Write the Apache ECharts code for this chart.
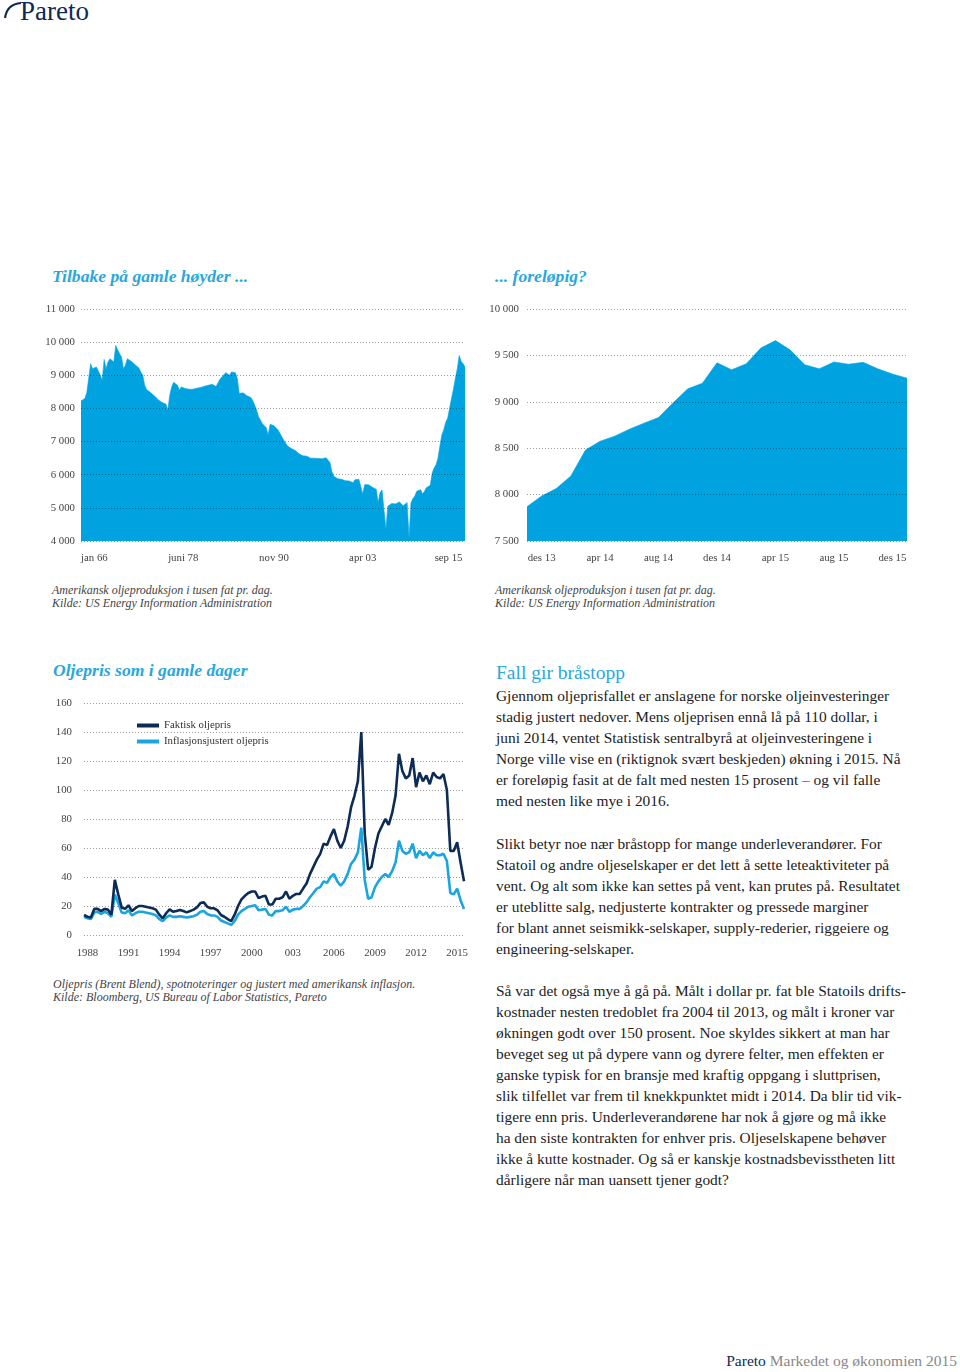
<!DOCTYPE html>
<html><head><meta charset="utf-8">
<script src="https://cdn.jsdelivr.net/npm/echarts@6/dist/echarts.min.js"></script>
<style>
html,body{margin:0;padding:0;background:#fff;}
body{width:960px;height:1372px;position:relative;overflow:hidden;font-family:"Liberation Serif",serif;}
.abs{position:absolute;white-space:nowrap;}
.ctitle{font-weight:bold;font-style:italic;color:#2aa7db;font-size:17.6px;line-height:20px;}
.cap{font-style:italic;color:#444;font-size:12px;line-height:13px;}
.body{color:#222;font-size:15.4px;line-height:21.1px;}
.chart{position:absolute;}
</style></head>
<body>
<svg class="abs" style="left:0;top:0" width="24" height="22"><path d="M5,18 Q7,4 21,3" fill="none" stroke="#0e2a52" stroke-width="2.2"/></svg>
<div class="abs" style="left:20px;top:-2px;font-size:27px;line-height:27px;color:#0e2a52;">Pareto</div>

<div class="abs ctitle" style="left:52px;top:266px;">Tilbake på gamle høyder ...</div>
<div class="abs ctitle" style="left:495px;top:266px;">... foreløpig?</div>
<div id="c1" class="chart" style="left:0;top:290px;width:480px;height:290px;"></div>
<div id="c2" class="chart" style="left:480px;top:290px;width:480px;height:290px;"></div>
<div class="abs cap" style="left:52px;top:583.5px;">Amerikansk oljeproduksjon i tusen fat pr. dag.<br>Kilde: US Energy Information Administration</div>
<div class="abs cap" style="left:495px;top:583.5px;">Amerikansk oljeproduksjon i tusen fat pr. dag.<br>Kilde: US Energy Information Administration</div>

<div class="abs ctitle" style="left:53px;top:660px;">Oljepris som i gamle dager</div>
<div id="c3" class="chart" style="left:0;top:690px;width:480px;height:280px;"></div>
<div class="abs cap" style="left:53px;top:977.5px;">Oljepris (Brent Blend), spotnoteringer og justert med amerikansk inflasjon.<br>Kilde: Bloomberg, US Bureau of Labor Statistics, Pareto</div>

<div class="abs" style="left:496px;top:662px;font-size:19.5px;line-height:22px;color:#2aa7db;">Fall gir bråstopp</div>
<div class="abs body" style="left:496px;top:684.5px;">Gjennom oljeprisfallet er anslagene for norske oljeinvesteringer<br>stadig justert nedover. Mens oljeprisen ennå lå på 110 dollar, i<br>juni 2014, ventet Statistisk sentralbyrå at oljeinvesteringene i<br>Norge ville vise en (riktignok svært beskjeden) økning i 2015. Nå<br>er foreløpig fasit at de falt med nesten 15 prosent – og vil falle<br>med nesten like mye i 2016.</div>
<div class="abs body" style="left:496px;top:832.5px;">Slikt betyr noe nær bråstopp for mange underleverandører. For<br>Statoil og andre oljeselskaper er det lett å sette leteaktiviteter på<br>vent. Og alt som ikke kan settes på vent, kan prutes på. Resultatet<br>er uteblitte salg, nedjusterte kontrakter og pressede marginer<br>for blant annet seismikk-selskaper, supply-rederier, riggeiere og<br>engineering-selskaper.</div>
<div class="abs body" style="left:496px;top:979.5px;">Så var det også mye å gå på. Målt i dollar pr. fat ble Statoils drifts-<br>kostnader nesten tredoblet fra 2004 til 2013, og målt i kroner var<br>økningen godt over 150 prosent. Noe skyldes sikkert at man har<br>beveget seg ut på dypere vann og dyrere felter, men effekten er<br>ganske typisk for en bransje med kraftig oppgang i sluttprisen,<br>slik tilfellet var frem til knekkpunktet midt i 2014. Da blir tid vik-<br>tigere enn pris. Underleverandørene har nok å gjøre og må ikke<br>ha den siste kontrakten for enhver pris. Oljeselskapene behøver<br>ikke å kutte kostnader. Og så er kanskje kostnadsbevisstheten litt<br>dårligere når man uansett tjener godt?</div>

<div class="abs" style="right:3px;top:1352px;font-size:15.5px;line-height:18px;color:#888;"><span style="color:#0e2a52">Pareto</span> Markedet og økonomien 2015</div>

<script>
// ---------- Chart 1: US oil production, quarterly 1966-2015 ----------
const prodQuarterly = [
8225,8250,8300,8480,8450,9350,9200,9220,9250,9130,
9000,8850,9480,9200,9400,9500,9520,9400,9900,9900,
9650,9550,9200,9300,9500,9450,9420,9400,9320,9280,
9220,9100,9000,8700,8570,8540,8480,8440,8380,8320,
8260,8220,8180,8160,8130,7950,8400,8650,8790,8830,
8700,8550,8650,8680,8600,8570,8580,8590,8580,8600,
8610,8620,8630,8650,8670,8680,8700,8720,8730,8700,
8660,8620,8880,8950,9000,9080,9020,9000,9100,9150,
9080,8900,8450,8440,8470,8420,8380,8370,8330,8240,
8100,7950,7750,7650,7540,7480,7420,7200,7520,7500,
7480,7430,7360,7260,7150,7050,6960,6870,6820,6790,
6760,6730,6680,6630,6600,6570,6570,6560,6520,6500,
6540,6500,6460,6490,6510,6480,6470,6510,6450,6370,
6100,5950,5920,5880,5860,5860,5850,5820,5810,5810,
5790,5760,5850,5880,5860,5800,5420,5700,5760,5700,
5660,5620,5600,5560,5160,5460,5540,5500,4350,5050,
5100,5130,5160,5120,5100,5180,5190,5060,5120,5160,
4100,5150,5280,5360,5500,5540,5550,5420,5500,5610,
5640,5680,6050,6200,6300,6500,6870,7200,7360,7580,
7700,8000,8300,8580,8900,9200,9600,9420,9350,9250];
const x1TickLabels = ['jan 66','juni 78','nov 90','apr 03','sep 15'];
const x1TickIdx = [0, 53, 100, 146, 198];
const y1TickLabels = ['4 000','5 000','6 000','7 000','8 000','9 000','10 000','11 000'];

// ---------- Chart 2: US oil production, monthly nov 13 - jan 16 ----------
const categories2 = ['nov 13','des 13','jan 14','feb 14','mar 14','apr 14','mai 14','jun 14','jul 14','aug 14','sep 14','okt 14','nov 14','des 14','jan 15','feb 15','mar 15','apr 15','mai 15','jun 15','jul 15','aug 15','sep 15','okt 15','nov 15','des 15','jan 16'];
const prodMonthly = [7870,7985,8065,8200,8480,8575,8630,8705,8770,8830,8990,9140,9200,9420,9345,9410,9580,9660,9560,9400,9355,9430,9405,9425,9355,9300,9255];
const x2TickLabels = ['des 13','apr 14','aug 14','des 14','apr 15','aug 15','des 15'];
const y2TickLabels = ['7 500','8 000','8 500','9 000','9 500','10 000'];

// ---------- Chart 3: Brent, quarterly 1988-2015 ----------
const brentNominal = [
13.8,12.6,12,18,18,16.5,18,17.5,14,38,
28,19,18,20.5,16.5,18.5,20,20,19.5,19,
18.4,17.5,14,11.5,15,17.7,16,16.5,17.2,16.5,
15.6,16.5,17.5,19,22,22.5,19.5,18.4,18.4,17,
13.8,12.6,11,9.5,14,20,24.5,27,29,30,
30,25.5,26.5,27,21,21,25,25,26,30,
25,27,28.3,28.3,32,35.5,42,47,52,56,
63,62,68,73,65,60,65,74.7,88,96,
106,140,70,45,47,60,70,75,80,76,
84,96,125,113,108,110,122,102,112,106,
110,104,112,109,108,111,100,58,58,64,
50,37];
const brentReal = [
12.5,11.5,11,15.5,16,14.5,16,15,12.5,28,
22,15.5,15,17,13.5,15,16,16,15.5,15,
14.5,13.5,11,9.5,12,13.5,12.5,12.5,13,12.5,
12,12.5,13,14,16,16.5,14.5,13.5,13.5,12.5,
10,9,8,7,9.5,14,16.5,18,19.5,20,
20.5,17,17.5,18,14,13.5,16.5,16.5,17,19.5,
16,17.5,18,18,20,22.5,26,29,32,33,
37,36,40,42,37,34,37,42,49,52,
57,74,38,25,26,33,37,40,42,40,
44,50,65,58,56,57,63,53,58,55,
57,53,57,55,55,56,51,29,28,32,
24,18];
const x3TickLabels = ['1988','1991','1994','1997','2000','003','2006','2009','2012','2015'];
const seriesNames3 = ['Faktisk oljepris','Inflasjonsjustert oljepris'];

// ---------- shared style ----------
const FONT = 'Liberation Serif';
const LABEL = {color:'#444', fontFamily:FONT, fontSize:10.8};
const GRIDLINE = {show:true, lineStyle:{color:'rgba(0,0,0,0.38)', type:[1,2], width:1}};
const BLUE = '#00a3e0';

// categories for chart 1 and 3
const categories1 = [];
for (let y = 1966; y <= 2015; y++) for (let q = 1; q <= 4; q++) categories1.push(y + ' K' + q);
const categories3 = [];
for (let y = 1988; y <= 2015; y++) for (let q = 1; q <= 4; q++) categories3.push(y + ' K' + q);

// Chart 1
const c1 = echarts.init(document.getElementById('c1'));
c1.setOption({
  animation:false,
  grid:{left:81, top:19, width:384, height:232},
  xAxis:{type:'category', data:categories1, boundaryGap:false,
    axisLine:{show:false}, axisTick:{show:false}, splitLine:{show:false},
    axisLabel:Object.assign({}, LABEL, {
      margin:12, alignMinLabel:'left',
      interval:(i)=>x1TickIdx.indexOf(i)>=0,
      formatter:(v,i)=>{const k=x1TickIdx.indexOf(i); if(k<0) return ''; return k===x1TickLabels.length-1 ? '{r|'+x1TickLabels[k]+'}' : x1TickLabels[k];},
      rich:{r:Object.assign({}, LABEL, {padding:[0,29,0,0]})}
    })},
  yAxis:{type:'value', min:4000, max:11000, interval:1000, z:5,
    axisLine:{show:false}, axisTick:{show:false}, splitLine:GRIDLINE,
    axisLabel:Object.assign({}, LABEL, {margin:6, formatter:(v)=>y1TickLabels[Math.round((v-4000)/1000)]})},
  series:[{type:'line', data:prodQuarterly, symbol:'none', z:2,
    lineStyle:{width:0.6, color:BLUE}, itemStyle:{color:BLUE},
    areaStyle:{color:BLUE, opacity:1, origin:'start'}}]
});

// Chart 2
const c2 = echarts.init(document.getElementById('c2'));
c2.setOption({
  animation:false,
  grid:{left:47, top:19, width:380, height:232},
  xAxis:{type:'category', data:categories2, boundaryGap:false,
    axisLine:{show:false}, axisTick:{show:false}, splitLine:{show:false},
    axisLabel:Object.assign({}, LABEL, {margin:12,
      interval:(i)=>x2TickLabels.indexOf(categories2[i])>=0,
      formatter:(v)=>x2TickLabels.indexOf(v)>=0 ? v : ''})},
  yAxis:{type:'value', min:7500, max:10000, interval:500, z:5,
    axisLine:{show:false}, axisTick:{show:false}, splitLine:GRIDLINE,
    axisLabel:Object.assign({}, LABEL, {margin:8, formatter:(v)=>y2TickLabels[Math.round((v-7500)/500)]})},
  series:[{type:'line', data:prodMonthly, symbol:'none', z:2,
    lineStyle:{width:0.6, color:BLUE}, itemStyle:{color:BLUE},
    areaStyle:{color:BLUE, opacity:1, origin:'start'}}]
});

// Chart 3
const NAVY = '#0c2b55', LIGHT = '#1aa5e0';
const c3 = echarts.init(document.getElementById('c3'));
c3.setOption({
  animation:false,
  grid:{left:84, top:13, width:380, height:232},
  legend:{data:seriesNames3, orient:'vertical', left:137, top:30, padding:0, itemWidth:22, itemHeight:4, itemGap:5, icon:'rect',
    textStyle:{color:'#333', fontFamily:FONT, fontSize:10.8}},
  xAxis:{type:'category', data:categories3, boundaryGap:false,
    axisLine:{show:false}, axisTick:{show:false}, splitLine:{show:false},
    axisLabel:Object.assign({}, LABEL, {margin:13,
      interval:(i)=>(i-1)%12===0,
      formatter:(v,i)=>((i-1)%12===0 ? x3TickLabels[(i-1)/12] : '')})},
  yAxis:{type:'value', min:0, max:160, interval:20,
    axisLine:{show:false}, axisTick:{show:false}, splitLine:GRIDLINE,
    axisLabel:Object.assign({}, LABEL, {margin:12})},
  series:[
    {name:seriesNames3[1], type:'line', data:brentReal, symbol:'none', lineStyle:{width:2.6, color:LIGHT}, itemStyle:{color:LIGHT}},
    {name:seriesNames3[0], type:'line', data:brentNominal, symbol:'none', lineStyle:{width:2.6, color:NAVY}, itemStyle:{color:NAVY}}
  ]
});
</script>
</body></html>
